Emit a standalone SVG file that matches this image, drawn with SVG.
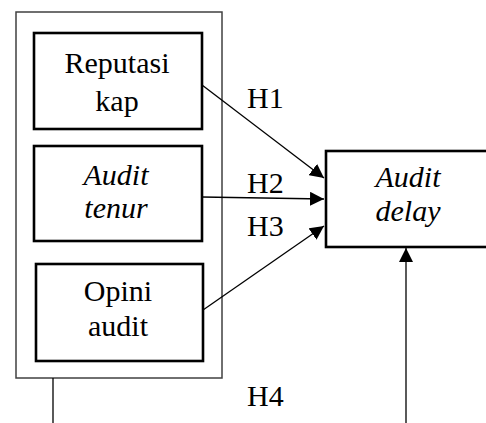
<svg xmlns="http://www.w3.org/2000/svg" width="486" height="423" viewBox="0 0 486 423">
  <defs>
    <marker id="head" markerUnits="userSpaceOnUse" markerWidth="14" markerHeight="14" refX="14" refY="7" orient="auto">
      <path d="M0,0 L14,7 L0,14 z" fill="#000000"/>
    </marker>
  </defs>

  <rect width="486" height="423" fill="#ffffff"/>

  <!-- surrounding frame of the independent variables -->
  <g id="frame">
    <rect x="16" y="12" width="206" height="366" fill="none" stroke="#404040" stroke-width="1.5"/>
  </g>

  <g id="reputasi-kap">
    <rect x="34" y="33" width="168" height="96" fill="#ffffff" stroke="#000000" stroke-width="2.6"/>
    <text x="117" y="73" font-family="'Liberation Serif'" font-size="30" text-anchor="middle">Reputasi</text>
    <text x="117" y="111" font-family="'Liberation Serif'" font-size="30" text-anchor="middle">kap</text>
  </g>

  <g id="audit-tenur">
    <rect x="34" y="146" width="168" height="95" fill="#ffffff" stroke="#000000" stroke-width="2.6"/>
    <text x="116" y="185" font-family="'Liberation Serif'" font-size="30" font-style="italic" text-anchor="middle">Audit</text>
    <text x="116" y="218" font-family="'Liberation Serif'" font-size="30" font-style="italic" text-anchor="middle">tenur</text>
  </g>

  <g id="opini-audit">
    <rect x="36" y="264" width="167" height="97" fill="#ffffff" stroke="#000000" stroke-width="2.6"/>
    <text x="118" y="301" font-family="'Liberation Serif'" font-size="30" text-anchor="middle">Opini</text>
    <text x="118" y="336" font-family="'Liberation Serif'" font-size="30" text-anchor="middle">audit</text>
  </g>

  <g id="audit-delay">
    <rect x="326" y="151" width="170" height="96" fill="#ffffff" stroke="#000000" stroke-width="2.6"/>
    <text x="408" y="187" font-family="'Liberation Serif'" font-size="30" font-style="italic" text-anchor="middle">Audit</text>
    <text x="408" y="221" font-family="'Liberation Serif'" font-size="30" font-style="italic" text-anchor="middle">delay</text>
  </g>

  <g id="connectors" fill="none" stroke="#000000" stroke-width="1.3">
    <line x1="202" y1="85" x2="324" y2="178" marker-end="url(#head)"/>
    <line x1="202" y1="197" x2="324" y2="199" marker-end="url(#head)"/>
    <line x1="203" y1="310" x2="324" y2="226" marker-end="url(#head)"/>
    <line x1="406" y1="423" x2="406" y2="248" marker-end="url(#head)"/>
    <line x1="53" y1="378" x2="53" y2="423"/>
  </g>

  <g id="hypotheses">
    <text x="247" y="108" font-family="'Liberation Serif'" font-size="30">H1</text>
    <text x="247" y="193" font-family="'Liberation Serif'" font-size="30">H2</text>
    <text x="247" y="236" font-family="'Liberation Serif'" font-size="30">H3</text>
    <text x="247" y="406" font-family="'Liberation Serif'" font-size="30">H4</text>
  </g>
</svg>
